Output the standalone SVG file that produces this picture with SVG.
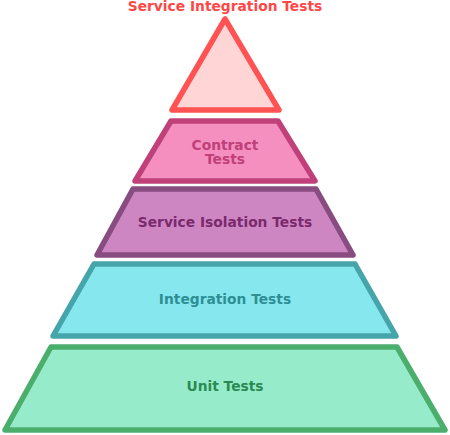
<svg xmlns="http://www.w3.org/2000/svg" width="450" height="435" viewBox="0 0 450 435">
<style>
.layer{stroke-width:5.5;stroke-linejoin:round}
.lbl{font-family:"DejaVu Sans","Liberation Sans",sans-serif;font-weight:bold;font-size:13.8px;text-anchor:middle}
</style>
<rect width="450" height="435" fill="#ffffff"/>
<g id="service-integration-tests">
<polygon class="layer" points="225,19 172,110 279,110" fill="#ffd5d5" stroke="#ff5252"/>
<text class="lbl" x="225" y="11" fill="#ff4747">Service Integration Tests</text>
</g>
<g id="contract-tests">
<polygon class="layer" points="171,121 278,121 315,181 135,181" fill="#f48fbf" stroke="#c0407a"/>
<text class="lbl" x="225" y="150" fill="#c0407a">Contract</text>
<text class="lbl" x="225" y="164" fill="#c0407a">Tests</text>
</g>
<g id="service-isolation-tests">
<polygon class="layer" points="133,189 316,189 353,255 97,255" fill="#ce86c3" stroke="#884c80"/>
<text class="lbl" x="225" y="227" fill="#7a2a6c">Service Isolation Tests</text>
</g>
<g id="integration-tests">
<polygon class="layer" points="94,264 355,264 396,336 53,336" fill="#86e8ee" stroke="#45a5aa"/>
<text class="lbl" x="225" y="304" fill="#2e8e94">Integration Tests</text>
</g>
<g id="unit-tests">
<polygon class="layer" points="51,347 397,347 445,430 5,430" fill="#96ecca" stroke="#4cae6c"/>
<text class="lbl" x="225" y="391" fill="#2a8a52">Unit Tests</text>
</g>
<g id="connectors"/>
</svg>
